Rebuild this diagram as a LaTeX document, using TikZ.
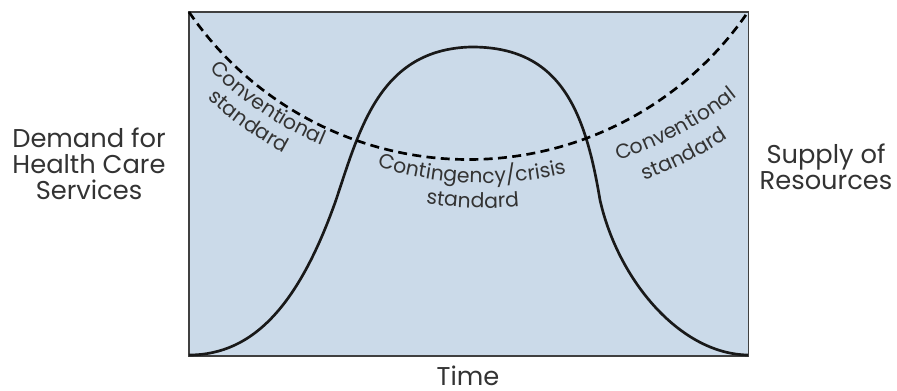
\documentclass[tikz,border=0pt]{standalone}
\usepackage{fontspec}
\setmainfont{Poppins}
\usetikzlibrary{decorations.text}

\definecolor{chartfill}{RGB}{203,218,233}
\definecolor{labelgray}{RGB}{51,51,51}
\newcommand\labelfont{\fontsize{15.3}{18.75}\selectfont}
\newcommand\axisfont{\fontsize{19.3}{19.5}\selectfont}

\tikzset{
  side label/.style={inner sep=0pt, text=labelgray, font=\axisfont, align=center},
  demand curve/.style={line width=2pt, color=black!90},
  supply curve/.style={line width=2pt, dash pattern=on 6.75pt off 4pt},
  arc label/.style={decorate, decoration={text along path, text align=center, text color=labelgray, text={|\labelfont|#1}}},
}

\begin{document}
\begin{tikzpicture}[x=0.75pt,y=0.75pt,yscale=-1,xscale=1]
\useasboundingbox (0,0) rectangle (897,390);

%Shape: Rectangle
\draw [fill=chartfill, draw=black!75, line width=1.1pt] (189,12) rectangle (748.5,356);

%Curve Lines (demand)
\draw [demand curve] (189,355) .. controls (255,355) and (300,302) .. (336,200)
  .. controls (360,128) and (380,50) .. (470,47)
  .. controls (560,46) and (585,110) .. (600,200)
  .. controls (618,280) and (680,354) .. (748,355) ;

%Shape: Arc (supply)
\draw [supply curve] (189,12) arc [start angle=145.65, end angle=34.35, radius=338.5] ;

% Text along arcs
\path [arc label=Conventional] ([shift={(144:352.3)}]459,-179) arc [start angle=144, end angle=104, radius=352.3] ;
\path [arc label=standard] ([shift={(145:375)}]459,-179) arc [start angle=145, end angle=105, radius=375] ;
\path [arc label=Contingency/crisis] ([shift={(115:362)}]484,-179) arc [start angle=115, end angle=69, radius=362] ;
\path [arc label=standard] ([shift={(112:387)}]484,-179) arc [start angle=112, end angle=71.4, radius=387] ;
\path [arc label=Conventional] ([shift={(82:366)}]509,-189) arc [start angle=82, end angle=42, radius=366] ;
\path [arc label=standard] ([shift={(83:393.5)}]509,-189) arc [start angle=83, end angle=43, radius=393.5] ;

% Text Node
\node [side label] (demand) at (89,164) {Demand for\\Health Care\\Services};
% Text Node
\node [side label] (supply) at (826,167) {Supply of\\Resources};
% Text Node
\node [side label, anchor=base] (time) at (468,385) {Time};

\end{tikzpicture}
\end{document}
